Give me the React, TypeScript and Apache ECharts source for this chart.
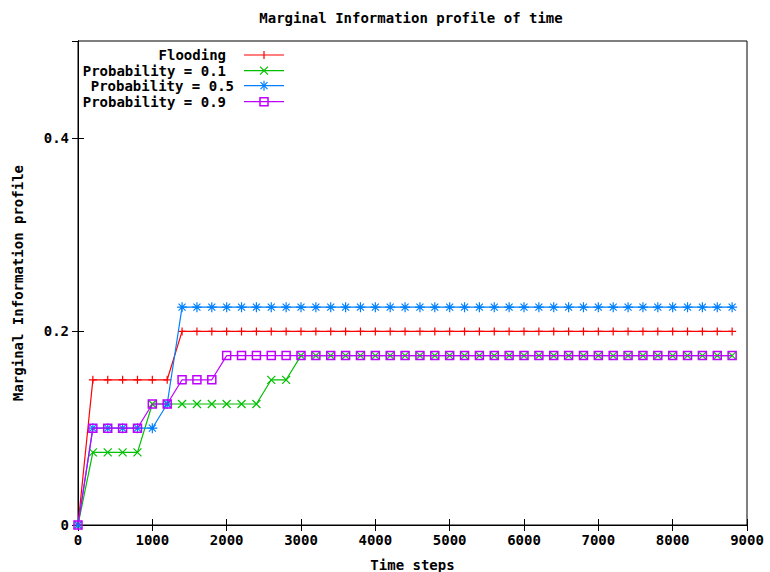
import React, { useEffect, useRef } from "react";
import * as echarts from "echarts";

const timeSteps = [
  0, 200, 400, 600, 800, 1000, 1200, 1400, 1600, 1800, 2000, 2200, 2400, 2600, 2800,
  3000, 3200, 3400, 3600, 3800, 4000, 4200, 4400, 4600, 4800, 5000, 5200, 5400, 5600,
  5800, 6000, 6200, 6400, 6600, 6800, 7000, 7200, 7400, 7600, 7800, 8000, 8200, 8400,
  8600, 8800,
];

const flooding = [
  0, 0.15, 0.15, 0.15, 0.15, 0.15, 0.15, 0.2, 0.2, 0.2, 0.2, 0.2, 0.2, 0.2, 0.2,
  0.2, 0.2, 0.2, 0.2, 0.2, 0.2, 0.2, 0.2, 0.2, 0.2, 0.2, 0.2, 0.2, 0.2,
  0.2, 0.2, 0.2, 0.2, 0.2, 0.2, 0.2, 0.2, 0.2, 0.2, 0.2, 0.2, 0.2, 0.2,
  0.2, 0.2,
];

const prob01 = [
  0, 0.075, 0.075, 0.075, 0.075, 0.125, 0.125, 0.125, 0.125, 0.125, 0.125, 0.125, 0.125, 0.15, 0.15,
  0.175, 0.175, 0.175, 0.175, 0.175, 0.175, 0.175, 0.175, 0.175, 0.175, 0.175, 0.175, 0.175, 0.175,
  0.175, 0.175, 0.175, 0.175, 0.175, 0.175, 0.175, 0.175, 0.175, 0.175, 0.175, 0.175, 0.175, 0.175,
  0.175, 0.175,
];

const prob05 = [
  0, 0.1, 0.1, 0.1, 0.1, 0.1, 0.125, 0.225, 0.225, 0.225, 0.225, 0.225, 0.225, 0.225, 0.225,
  0.225, 0.225, 0.225, 0.225, 0.225, 0.225, 0.225, 0.225, 0.225, 0.225, 0.225, 0.225, 0.225, 0.225,
  0.225, 0.225, 0.225, 0.225, 0.225, 0.225, 0.225, 0.225, 0.225, 0.225, 0.225, 0.225, 0.225, 0.225,
  0.225, 0.225,
];

const prob09 = [
  0, 0.1, 0.1, 0.1, 0.1, 0.125, 0.125, 0.15, 0.15, 0.15, 0.175, 0.175, 0.175, 0.175, 0.175,
  0.175, 0.175, 0.175, 0.175, 0.175, 0.175, 0.175, 0.175, 0.175, 0.175, 0.175, 0.175, 0.175, 0.175,
  0.175, 0.175, 0.175, 0.175, 0.175, 0.175, 0.175, 0.175, 0.175, 0.175, 0.175, 0.175, 0.175, 0.175,
  0.175, 0.175,
];

const seriesNames = ["Flooding", "Probability = 0.1", "Probability = 0.5", "Probability = 0.9"];
const seriesColors = ["#ff0000", "#00c000", "#0080ff", "#c000ff"];
const seriesValues = [flooding, prob01, prob05, prob09];

const FONT = "DejaVu Sans Mono";

const SYM_PLUS = "path://M5,0L5,10M0,5L10,5";
const SYM_CROSS = "path://M0,0L10,10M10,0L0,10";
const SYM_STAR = "path://M5,0L5,10M0,5L10,5M1.5,1.5L8.5,8.5M8.5,1.5L1.5,8.5";
const SYM_SQUARE = "path://M0,0L10,0L10,10L0,10Z";
const symbols = [SYM_PLUS, SYM_CROSS, SYM_STAR, SYM_SQUARE];
const symbolSizes = [8, 8, 10, 8];

export default function App() {
  const ref = useRef<HTMLDivElement>(null);

  useEffect(() => {
    document.body.style.margin = "0";
    if (!ref.current) return;
    const chart = echarts.init(ref.current, null, { renderer: "svg" });

    const textStyle = { fontFamily: FONT, fontWeight: "bold" as const, fontSize: 14, color: "#000" };

    const series = seriesNames.map((name, i) => ({
      name,
      type: "line",
      data: timeSteps.map((t, j) => [t, seriesValues[i][j]]),
      symbol: symbols[i],
      symbolSize: symbolSizes[i],
      showAllSymbol: true,
      lineStyle: { color: seriesColors[i], width: 1.2 },
      itemStyle: {
        color: "transparent",
        borderColor: seriesColors[i],
        borderWidth: i === 3 ? 1.5 : 1.2,
      },
      emphasis: { disabled: true },
      z: 2 + i,
    }));

    // legend (gnuplot style: text right-aligned, sample on the right)
    const legendRows = [55, 70.7, 85.7, 101.7];
    const legendTextRight = [226, 226, 234, 226];
    const lx0 = 244;
    const lx1 = 284;
    const mx = 264;
    const legendEls: any[] = [];
    seriesNames.forEach((name, i) => {
      const y = legendRows[i];
      const c = seriesColors[i];
      legendEls.push({
        type: "text",
        x: legendTextRight[i],
        y,
        style: { text: name, align: "right", verticalAlign: "middle", font: `bold 14px "${FONT}"`, fill: "#000" },
      });
      legendEls.push({
        type: "line",
        shape: { x1: lx0, y1: y, x2: lx1, y2: y },
        style: { stroke: c, lineWidth: 1.2 },
      });
      const st = { stroke: c, lineWidth: 1.2, fill: "none" };
      if (i === 0) {
        legendEls.push({ type: "line", shape: { x1: mx, y1: y - 4, x2: mx, y2: y + 4 }, style: st });
      } else if (i === 1) {
        legendEls.push({ type: "line", shape: { x1: mx - 4, y1: y - 4, x2: mx + 4, y2: y + 4 }, style: st });
        legendEls.push({ type: "line", shape: { x1: mx + 4, y1: y - 4, x2: mx - 4, y2: y + 4 }, style: st });
      } else if (i === 2) {
        legendEls.push({ type: "line", shape: { x1: mx, y1: y - 5, x2: mx, y2: y + 5 }, style: st });
        legendEls.push({ type: "line", shape: { x1: mx - 3.5, y1: y - 3.5, x2: mx + 3.5, y2: y + 3.5 }, style: st });
        legendEls.push({ type: "line", shape: { x1: mx + 3.5, y1: y - 3.5, x2: mx - 3.5, y2: y + 3.5 }, style: st });
      } else {
        legendEls.push({ type: "rect", shape: { x: mx - 4, y: y - 4, width: 8, height: 8 }, style: { ...st, lineWidth: 1.5 } });
      }
    });

    const axisCommon = {
      type: "value" as const,
      axisLine: { show: true, lineStyle: { color: "#000", width: 1 } },
      axisTick: { show: true, inside: true, length: 6, lineStyle: { color: "#000" } },
      splitLine: { show: false },
    };

    chart.setOption({
      animation: false,
      backgroundColor: "#fff",
      title: {
        text: "Marginal Information profile of time",
        left: 411,
        top: 11,
        padding: 0,
        textAlign: "center",
        textStyle: { ...textStyle, fontSize: 14 },
      },
      grid: {
        left: 78,
        right: 23,
        top: 41,
        bottom: 47,
        show: true,
        borderColor: "#000",
        borderWidth: 1,
        backgroundColor: "transparent",
        containLabel: false,
        outerBoundsMode: "none",
      },
      xAxis: [
        {
          ...axisCommon,
          position: "bottom",
          min: 0,
          max: 9000,
          interval: 1000,
          name: "Time steps",
          nameLocation: "middle",
          nameGap: 33,
          nameTextStyle: textStyle,
          axisLabel: { ...textStyle, margin: 8, formatter: (v: number) => String(v) },
        },
        {
          ...axisCommon,
          position: "top",
          min: 0,
          max: 9000,
          interval: 1000,
          axisLabel: { show: false },
        },
      ],
      yAxis: [
        {
          ...axisCommon,
          position: "left",
          min: 0,
          max: 0.5,
          interval: 0.2,
          name: "Marginal Information profile",
          nameLocation: "middle",
          nameGap: 53,
          nameRotate: 90,
          nameTextStyle: textStyle,
          axisLabel: { ...textStyle, margin: 9, showMaxLabel: false, formatter: (v: number) => String(v) },
        },
        {
          ...axisCommon,
          position: "right",
          min: 0,
          max: 0.5,
          interval: 0.2,
          axisLabel: { show: false },
        },
      ],
      series,
      graphic: legendEls,
    });

    return () => chart.dispose();
  }, []);

  return <div ref={ref} style={{ width: 770, height: 572 }} />;
}
